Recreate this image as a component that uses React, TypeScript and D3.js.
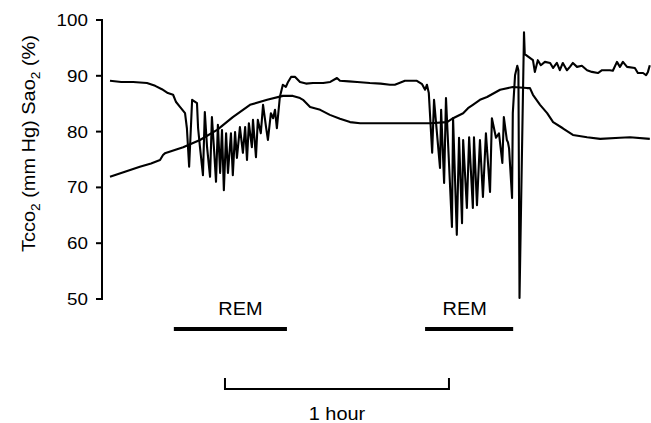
import React from "react";
import * as d3 from "d3";

// time in minutes from start of trace
const saoData: [number, number][] = [
  [0, 89.1],[3, 88.9],[6.2, 88.9],[9.9, 88.7],[12.1, 88.2],[13.9, 87.6],[15.5, 86.9],[16.9, 86.6],[17.7, 85.3],[18.8, 84.4],[20.1, 83.3],[20.6, 80.6],[21.2, 73.7],[22.0, 85.7],[23.3, 85.1],[23.6, 80.6],[24.1, 77.2],[24.9, 72.2],[25.4, 83.5],[26.0, 77.2],[26.8, 71.9],[27.3, 82.6],[27.9, 76.5],[28.4, 71.0],[28.9, 81.2],[29.5, 72.6],[30.0, 80.3],[30.5, 69.5],[31.1, 79.7],[31.6, 72.6],[32.4, 79.7],[32.9, 72.2],[33.5, 79.9],[34.0, 75.3],[34.8, 80.8],[35.6, 76.2],[36.2, 80.8],[36.7, 74.9],[37.2, 81.5],[38.0, 77.2],[38.3, 82.1],[39.1, 75.4],[39.6, 82.1],[40.4, 79.7],[41.0, 84.8],[41.8, 80.8],[42.3, 78.5],[43.1, 83.3],[43.7, 82.4],[44.2, 83.9],[44.7, 80.6],[45.5, 86.2],[46.3, 88.4],[47.1, 88.0],[47.7, 88.9],[48.5, 89.8],[49.6, 89.8],[50.9, 88.9],[52.5, 88.6],[54.4, 88.7],[57.1, 88.7],[59.0, 88.9],[60.8, 89.6],[61.6, 89.1],[64, 89.0],[66.2, 88.9],[69.6, 88.7],[72.5, 88.6],[75.0, 88.4],[76.3, 88.4],[77.5, 88.7],[79.0, 89.1],[82.2, 89.1],[83.6, 88.5],[84.4, 87.5],[84.9, 88.4],[85.4, 86.9],[86.3, 76.2],[86.8, 85.7],[88.4, 73.5],[88.7, 83.9],[89.5, 70.8],[90.0, 86.0],[91.6, 62.9],[91.9, 82.4],[92.9, 61.5],[93.5, 78.9],[94.3, 63.6],[94.6, 78.5],[95.6, 66.3],[96.2, 79.0],[97.2, 66.3],[97.5, 79.0],[98.3, 66.8],[99.1, 78.5],[99.9, 68.3],[100.7, 79.7],[101.8, 69.2],[102.3, 82.4],[103.4, 78.9],[104.2, 79.7],[105.1, 74.4],[105.5, 82.6],[106.3, 78.5],[106.6, 78.1],[106.9, 77.0],[107.7, 68.1],[107.9, 83.3],[108.5, 90.1],[109.1, 91.8],[109.4, 91.0],[109.7, 50.2],[110.9, 97.8],[111.1, 93.9],[113.3, 92.8],[113.8, 90.7],[114.6, 92.8],[115.4, 91.9],[116.5, 92.5],[117.9, 92.3],[118.7, 91.4],[119.7, 92.3],[120.5, 91.0],[121.3, 92.3],[122.4, 91.0],[123.2, 91.6],[124.0, 92.3],[125.1, 91.6],[126.4, 91.8],[127.8, 91.0],[129.1, 90.7],[130.7, 90.5],[131.8, 91.0],[133.9, 91.0],[134.7, 90.9],[135.8, 92.5],[136.6, 91.6],[137.4, 92.5],[138.5, 91.6],[140.6, 91.4],[141.4, 90.5],[142.8, 90.5],[143.6, 90.1],[144.1, 90.7],[144.6, 91.9]
];

const tccoData: [number, number][] = [
  [0, 71.9],[4, 72.8],[8.0, 73.7],[11, 74.3],[13.4, 74.9],[14.2, 75.8],[14.7, 76.1],[19.6, 77.2],[24.1, 78.5],[28.7, 80.3],[32.9, 82.6],[37.5, 84.8],[42.1, 85.7],[46.3, 86.4],[49.0, 86.4],[50.9, 86.0],[51.7, 85.7],[53.6, 84.4],[56.3, 83.9],[58.9, 83.0],[61.6, 82.3],[64.3, 81.7],[67.0, 81.5],[72.3, 81.5],[76.9, 81.5],[81.2, 81.5],[85.7, 81.5],[90.3, 81.7],[91.9, 82.4],[94.6, 83.3],[95.9, 84.2],[97.2, 84.8],[99.1, 85.7],[101.0, 86.2],[104.5, 87.5],[107.9, 88.0],[111.7, 87.8],[112.5, 87.8],[113.3, 86.6],[115.2, 84.8],[117.1, 83.3],[118.7, 81.7],[121.3, 80.6],[124.0, 79.4],[127.8, 79.0],[131.3, 78.7],[136.6, 78.9],[139.3, 79.0],[144.6, 78.7]
];

const yTicks = [50, 60, 70, 80, 90, 100];
const remPeriods: [number, number][] = [[17.1, 47.4], [84.4, 108.0]];
const remLabel = "REM";
const hourBracket: [number, number] = [30.8, 90.8];
const hourLabel = "1 hour";

const SX = 1.14; // horizontal stretch of the reference typeface
const remLabelShift = [10, -4.5];

export default function App() {
  const W = 651, H = 423;
  const x = d3.scaleLinear().domain([0, 145]).range([110, 651.3]);
  const y = d3.scaleLinear().domain([50, 100]).range([299, 20]);
  const line = d3.line<[number, number]>().x(d => x(d[0])).y(d => y(d[1]));
  const font = "'Liberation Sans', Arial, Helvetica, sans-serif";
  const axisX = 102;
  return (
    <svg width={W} height={H} style={{ position: "absolute", left: 0, top: 0, background: "#fff" }} fontFamily={font}>
      <rect width={W} height={H} fill="#fff" />
      {/* y axis */}
      <line x1={axisX} x2={axisX} y1={y(100) - 1} y2={y(50) + 1} stroke="#000" strokeWidth={2} />
      {yTicks.map(t => (
        <g key={t}>
          <line x1={axisX - 6} x2={axisX} y1={y(t)} y2={y(t)} stroke="#000" strokeWidth={2} />
          <text transform={`translate(${axisX - 14},${y(t) + 6}) scale(${SX},1)`} textAnchor="end" fontSize={16.5} fill="#000">{t}</text>
        </g>
      ))}
      <text transform={`translate(35,${(y(100) + y(50)) / 2 - 16}) rotate(-90) scale(${SX},1)`} textAnchor="middle" fontSize={17.5} fill="#000">
        Tcco<tspan fontSize={12} dy={5}>2</tspan><tspan dy={-5}> (mm Hg) Sao</tspan><tspan fontSize={12} dy={5}>2</tspan><tspan dy={-5}> (%)</tspan>
      </text>
      {/* traces */}
      <path d={line(tccoData) || ""} fill="none" stroke="#000" strokeWidth={2.1} strokeLinejoin="round" />
      <path d={line(saoData) || ""} fill="none" stroke="#000" strokeWidth={2.1} strokeLinejoin="round" />
      {/* REM bars */}
      {remPeriods.map((p, i) => (
        <g key={i}>
          <line x1={x(p[0])} x2={x(p[1])} y1={329} y2={329} stroke="#000" strokeWidth={4} />
          <text transform={`translate(${(x(p[0]) + x(p[1])) / 2 + remLabelShift[i]},314.5) scale(${SX},1)`} textAnchor="middle" fontSize={17.5} fill="#000">{remLabel}</text>
        </g>
      ))}
      {/* 1 hour bracket */}
      <path d={`M${x(hourBracket[0])},378V389H${x(hourBracket[1])}V378`} fill="none" stroke="#000" strokeWidth={2} />
      <text transform={`translate(${(x(hourBracket[0]) + x(hourBracket[1])) / 2},420) scale(${SX},1)`} textAnchor="middle" fontSize={17.5} fill="#000">{hourLabel}</text>
    </svg>
  );
}
